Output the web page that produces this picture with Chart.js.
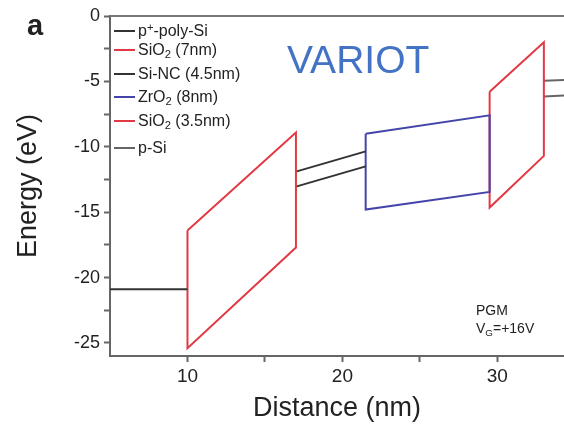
<!DOCTYPE html>
<html>
<head>
<meta charset="utf-8">
<script src="https://cdn.jsdelivr.net/npm/chart.js@4.4.1/dist/chart.umd.min.js"></script>
<style>
  html, body { margin: 0; padding: 0; background: #fff; }
  #wrap { position: relative; width: 564px; height: 432px; overflow: hidden; font-family: "Liberation Sans", Arial, sans-serif; }
  #chart { position: absolute; left: 0; top: 0; }
  .txt { position: absolute; white-space: nowrap; color: #222; line-height: 1; }
  sub, sup { font-size: 0.7em; line-height: 0; }
  sub { vertical-align: -0.3em; }
  sup { vertical-align: 0.45em; }
  .leg { position: absolute; left: 114px; font-size: 16px; color: #222; white-space: nowrap; line-height: 1; }
  .leg i { display: inline-block; width: 21px; height: 2px; vertical-align: middle; margin-right: 3px; position: relative; top: -1px; }
</style>
</head>
<body>
<div id="wrap">
  <canvas id="chart" width="564" height="432"></canvas>
  <div class="txt" style="left:27px; top:11px; font-size:29px; font-weight:bold;">a</div>
  <div class="txt" style="left:287px; top:40px; font-size:39px; color:#4472C4;">VARIOT</div>
  <div class="txt" style="left:476px; top:303px; font-size:14px;">PGM</div>
  <div class="txt" style="left:476px; top:321px; font-size:14px;">V<sub>G</sub>=+16V</div>
  <div id="legend"></div>
</div>
<script>
// ---- data ----
const xTicks = [10, 15, 20, 25, 30];
const yTicks = [0, -2.5, -5, -7.5, -10, -12.5, -15, -17.5, -20, -22.5, -25];

const polySiX = [5, 10];
const polySiY = [-20.9, -20.9];

const sio2ThickX = [10, 17, 17, 10, 10];
const sio2ThickY = [-16.4, -8.9, -17.7, -25.4, -16.4];

const siNcX = [17, 21.5];
const siNcUpperY = [-11.9, -10.35];
const siNcLowerY = [-13.05, -11.5];

const zro2X = [21.5, 29.5, 29.5, 21.5, 21.5];
const zro2Y = [-9.0, -7.6, -13.45, -14.8, -9.0];

const sio2ThinX = [29.5, 33, 33, 29.5, 29.5];
const sio2ThinY = [-5.8, -2.0, -10.7, -14.65, -5.8];

const pSiX = [33, 35];
const pSiUpperY = [-4.95, -4.85];
const pSiLowerY = [-6.15, -6.05];

const layers = [
    { name: 'p<sup>+</sup>-poly-Si', color: '#333333', top: 23 },
    { name: 'SiO<sub>2</sub> (7nm)', color: '#e23a45', top: 42 },
    { name: 'Si-NC (4.5nm)', color: '#333333', top: 66 },
    { name: 'ZrO<sub>2</sub> (8nm)', color: '#4444aa', top: 89 },
    { name: 'SiO<sub>2</sub> (3.5nm)', color: '#e23a45', top: 113 },
    { name: 'p-Si', color: '#666666', top: 140 }
];

function pts(xs, ys) {
    return xs.map((x, i) => ({ x: x, y: ys[i] }));
}

function band(xs, ys, color) {
    return {
        data: pts(xs, ys),
        showLine: true,
        borderColor: color,
        borderWidth: 2,
        pointRadius: 0,
        fill: false,
        tension: 0
    };
}

// legend as html (sits inside the plot, top-left)
const legendEl = document.getElementById('legend');
layers.forEach(l => {
    const d = document.createElement('div');
    d.className = 'leg';
    d.style.top = l.top + 'px';
    d.innerHTML = '<i style="background:' + l.color + '"></i>' + l.name;
    legendEl.appendChild(d);
});

const topFrame = {
    id: 'topFrame',
    afterDraw(chart) {
        const { ctx, chartArea: a } = chart;
        ctx.save();
        ctx.strokeStyle = '#777';
        ctx.lineWidth = 2;
        ctx.beginPath();
        ctx.moveTo(a.left, a.top);
        ctx.lineTo(a.right, a.top);
        ctx.stroke();
        ctx.restore();
    }
};

Chart.defaults.font.family = '"Liberation Sans", Arial, sans-serif';
Chart.defaults.color = '#222';

new Chart(document.getElementById('chart'), {
    type: 'scatter',
    data: {
        datasets: [
            band(polySiX, polySiY, '#333333'),
            band(sio2ThickX, sio2ThickY, '#e23a45'),
            band(siNcX, siNcUpperY, '#333333'),
            band(siNcX, siNcLowerY, '#333333'),
            band(zro2X, zro2Y, '#4444aa'),
            band(sio2ThinX, sio2ThinY, '#e23a45'),
            band(pSiX, pSiUpperY, '#666666'),
            band(pSiX, pSiLowerY, '#666666')
        ]
    },
    options: {
        responsive: false,
        animation: false,
        layout: { padding: { top: 16, left: 0, right: 0, bottom: 0 } },
        plugins: {
            legend: { display: false },
            tooltip: { enabled: false }
        },
        scales: {
            x: {
                type: 'linear',
                min: 5,
                max: 34.3,
                afterFit: s => { s.height = 76; },
                afterBuildTicks: s => { s.ticks = xTicks.map(v => ({ value: v })); },
                border: { color: '#666', width: 2 },
                grid: { drawOnChartArea: false, tickLength: 6, tickColor: '#666', tickWidth: 2 },
                ticks: {
                    font: { size: 19 },
                    padding: 3,
                    maxRotation: 0,
                    callback: v => (v % 10 === 0 ? v : '')
                },
                title: {
                    display: true,
                    text: 'Distance (nm)',
                    font: { size: 27 },
                    padding: { top: 0, bottom: 7 }
                }
            },
            y: {
                type: 'linear',
                min: -26,
                max: 0,
                afterFit: s => { s.width = 110; },
                afterBuildTicks: s => { s.ticks = yTicks.map(v => ({ value: v })); },
                border: { color: '#666', width: 2 },
                grid: { drawOnChartArea: false, tickLength: 6, tickColor: '#666', tickWidth: 2 },
                ticks: {
                    font: { size: 18 },
                    padding: 4,
                    callback: v => (v % 5 === 0 ? v : '')
                },
                title: {
                    display: true,
                    text: 'Energy (eV)',
                    font: { size: 27 },
                    padding: { top: 12, bottom: 0 }
                }
            }
        }
    },
    plugins: [topFrame]
});
</script>
</body>
</html>
